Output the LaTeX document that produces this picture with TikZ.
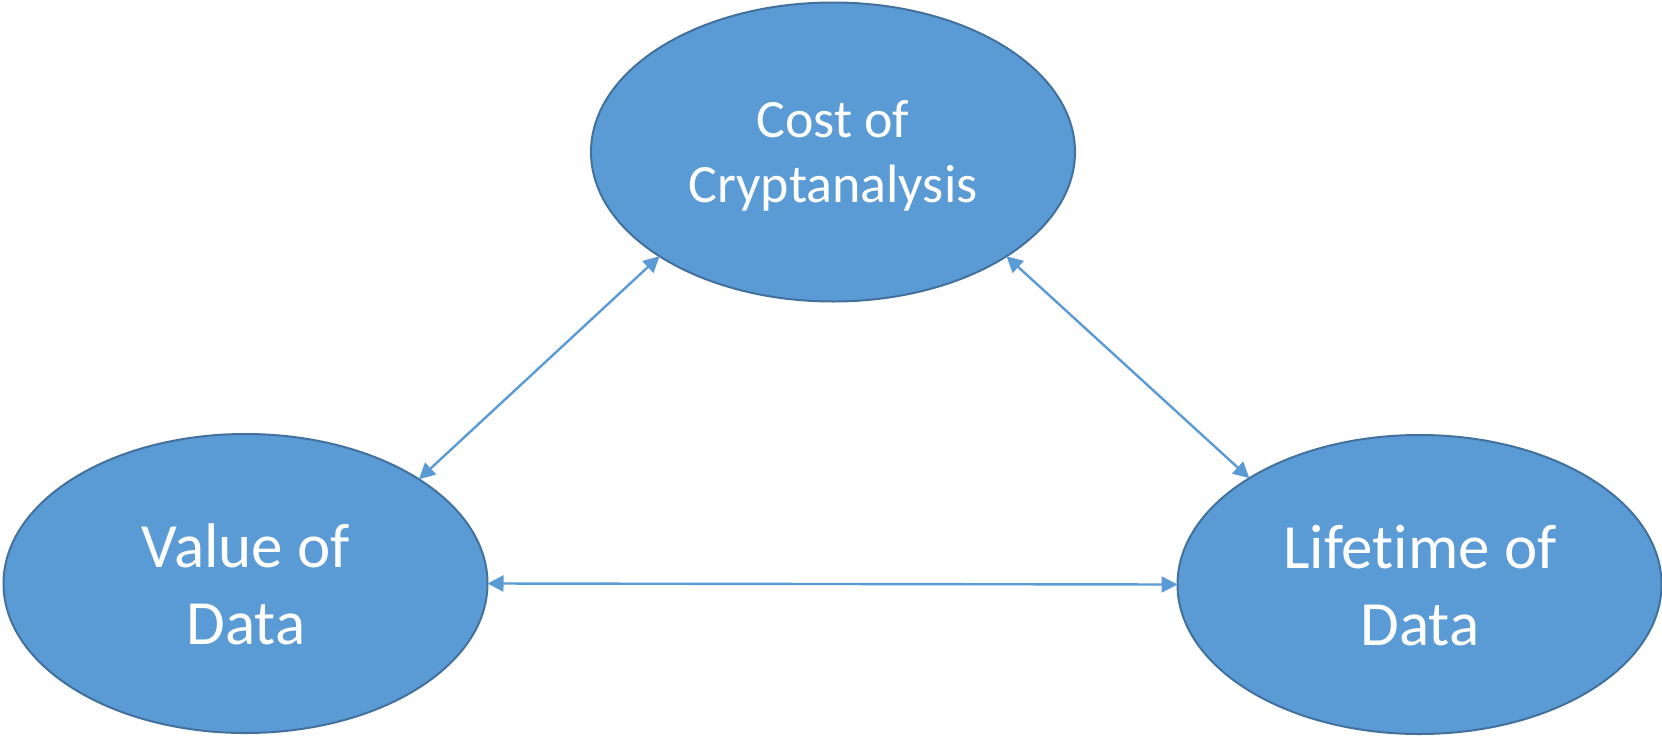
\documentclass[tikz,border=0pt]{standalone}
\usepackage{fontspec}
\setmainfont[RawFeature={-liga;-dlig}]{Carlito}
\usetikzlibrary{shapes.geometric,arrows.meta}
\definecolor{ofill}{HTML}{5B9BD5}
\definecolor{oedge}{HTML}{41719C}
\begin{document}
\begin{tikzpicture}[x=1pt,y=-1pt,
  bubble/.style={ellipse,draw=oedge,fill=ofill,line width=2pt,inner sep=0pt,outer sep=0pt,minimum width=484pt,minimum height=299pt},
  smalltxt/.style={text=white,anchor=base,inner sep=0pt,font=\fontsize{54}{65}\selectfont},
  bigtxt/.style={text=white,anchor=base,inner sep=0pt,font=\fontsize{63}{77}\selectfont},
  link/.style={draw=ofill,line width=2.4pt,{Triangle[length=16pt,width=16pt]}-{Triangle[length=16pt,width=16pt]}}]
\useasboundingbox (0,0) rectangle (1662,736);
\node[bubble] (top) at (833,152) {};
\node[bubble] (left) at (245.5,583.5) {};
\node[bubble] (right) at (1419.5,584.5) {};
\node[smalltxt] (t1) at (833,137) {Cost of};
\node[smalltxt] (t2) at (833,202) {Cryptanalysis};
\node[bigtxt] (l1) at (246,567) {Value of};
\node[bigtxt] (l2) at (246,644) {Data};
\node[bigtxt] (r1) at (1420,568) {Lifetime of};
\node[bigtxt] (r2) at (1420,645) {Data};
\draw[link] (left.31.8) -- (top.211.6);
\draw[link] (top.-31.6) -- (right.148.4);
\draw[link] (left.east) -- (right.west);
\end{tikzpicture}
\end{document}
